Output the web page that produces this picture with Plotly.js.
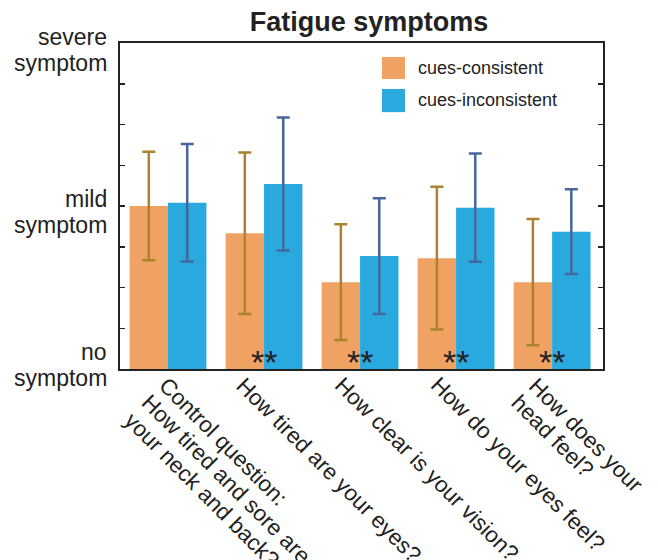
<!DOCTYPE html>
<html>
<head>
<meta charset="utf-8">
<script src="https://cdn.plot.ly/plotly-3.0.1.min.js"></script>
<style>html,body{margin:0;padding:0;background:#fff;}#chart{width:658px;height:560px;}</style>
</head>
<body>
<div id="chart"></div>
<script>
const categories = [
  "Control question:<br>How tired and sore are<br>your neck and back?",
  "How tired are your eyes?",
  "How clear is your vision?",
  "How do your eyes feel?",
  "How does your<br>head feel?"
];
const consistentMeans = [4.0, 3.33, 2.13, 2.72, 2.13];
const consistentErr = [1.33, 1.98, 1.42, 1.75, 1.55];
const inconsistentMeans = [4.08, 4.54, 2.77, 3.96, 3.37];
const inconsistentErr = [1.44, 1.63, 1.42, 1.33, 1.04];
const significance = ["", "**", "**", "**", "**"];
const yTickVals = [0, 1, 2, 3, 4, 5, 6, 7, 8];
const yTickText = ["no<br>symptom", "", "", "", "mild<br>symptom", "", "", "", "severe<br>symptom"];
const seriesNames = ["cues-consistent", "cues-inconsistent"];

// label placement (pixels) – layout only
const xLabelShift = [-5, -23, -21, -21, -19];
const yLabelFirstLine = {0: -17, 4: -7, 8: -6};

const idx = categories.map((c, i) => i);
const FONT = "Liberation Sans, Arial, Helvetica, sans-serif";
const TXT = "#222";

const traces = [
  {
    type: "bar", name: seriesNames[0], x: idx, y: consistentMeans,
    marker: {color: "#F0A262"},
    error_y: {type: "data", array: consistentErr, visible: true, color: "#A98330", thickness: 2.5, width: 6.5},
    showlegend: false
  },
  {
    type: "bar", name: seriesNames[1], x: idx, y: inconsistentMeans,
    marker: {color: "#2AA9DE"},
    error_y: {type: "data", array: inconsistentErr, visible: true, color: "#45679E", thickness: 2.5, width: 6.5},
    showlegend: false
  }
];

const annotations = [];
// significance stars
significance.forEach((s, i) => {
  if (s) annotations.push({x: i, y: 0, xref: "x", yref: "y", text: s, showarrow: false,
    xanchor: "center", yanchor: "bottom", yshift: -14, font: {family: FONT, size: 34, color: TXT}});
});
// x category labels, rotated, one annotation per line
categories.forEach((c, i) => {
  c.split("<br>").forEach((line, k) => {
    annotations.push({x: i, y: 0, xref: "x", yref: "y", text: line, showarrow: false, textangle: 45,
      xanchor: "left", yanchor: "top",
      xshift: xLabelShift[i] - 17 * k - 12, yshift: -(10 + 17.5 * k) + 9,
      font: {family: FONT, size: 22.5, color: TXT}});
  });
});
// y tick labels, one annotation per line
yTickVals.forEach((v, j) => {
  const t = yTickText[j];
  if (!t) return;
  t.split("<br>").forEach((line, k) => {
    annotations.push({x: 0, y: v, xref: "paper", yref: "y", text: line, showarrow: false,
      xanchor: "right", yanchor: "middle", xshift: -11, yshift: -(yLabelFirstLine[v] + 25.5 * k),
      font: {family: FONT, size: 23, color: TXT}});
  });
});
// legend
annotations.push({x: 0.6128, y: 0.923, xref: "paper", yref: "paper", text: seriesNames[0], showarrow: false,
  xanchor: "left", yanchor: "middle", font: {family: FONT, size: 18, color: TXT}});
annotations.push({x: 0.6128, y: 0.825, xref: "paper", yref: "paper", text: seriesNames[1], showarrow: false,
  xanchor: "left", yanchor: "middle", font: {family: FONT, size: 18, color: TXT}});

const shapes = [
  {type: "rect", xref: "paper", yref: "paper", x0: 0.5424, x1: 0.590, y0: 0.8896, y1: 0.957, fillcolor: "#F0A262", line: {width: 0}},
  {type: "rect", xref: "paper", yref: "paper", x0: 0.5424, x1: 0.590, y0: 0.788, y1: 0.859, fillcolor: "#2AA9DE", line: {width: 0}}
];

const layout = {
  width: 658, height: 560,
  margin: {l: 120, r: 55, t: 43, b: 191},
  paper_bgcolor: "#fff", plot_bgcolor: "#fff",
  font: {family: FONT, color: TXT},
  title: {text: "<b>Fatigue symptoms</b>", x: 0.5155, xref: "paper", xanchor: "center", y: 0.962, yref: "container", yanchor: "middle",
    font: {family: FONT, size: 27, color: TXT}},
  barmode: "group", bargap: 0.2, bargroupgap: 0,
  xaxis: {
    type: "linear", range: [-0.5, 4.53], tickvals: idx, ticktext: categories, showticklabels: false,
    showline: true, mirror: true, linecolor: "#222", linewidth: 2, ticks: "", showgrid: false, zeroline: false
  },
  yaxis: {
    range: [0, 8], tickvals: yTickVals, ticktext: yTickText, showticklabels: false,
    ticks: "inside", ticklen: 5, tickwidth: 1.5, tickcolor: "#222",
    showline: true, mirror: "ticks", linecolor: "#222", linewidth: 2, showgrid: false, zeroline: false
  },
  annotations: annotations,
  shapes: shapes,
  showlegend: false
};

Plotly.newPlot("chart", traces, layout, {displayModeBar: false, staticPlot: true});
</script>
</body>
</html>
